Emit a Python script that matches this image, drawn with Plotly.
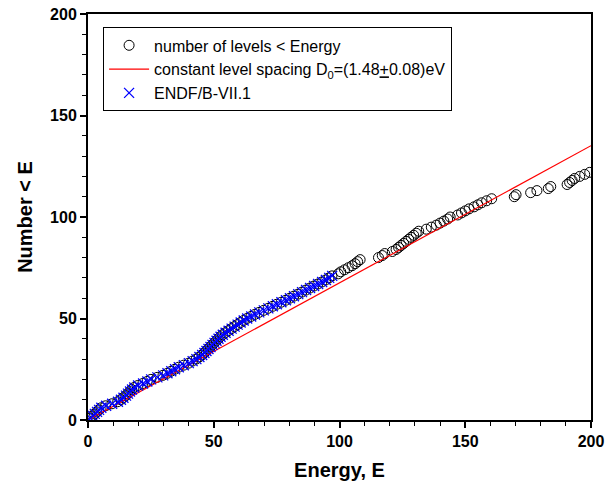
import plotly.graph_objects as go

# Level energies (E) and cumulative count (number of levels < E)
level_energy = [
    0.8, 1.8, 2.6, 3.5, 4.3, 5.2, 7.0, 9.5, 11.8, 13.0,
    14.0, 15.0, 15.8, 16.6, 17.4, 18.3, 19.8, 21.8, 23.5, 25.0,
    27.5, 29.8, 31.5, 33.0, 34.5, 36.0, 38.0, 40.0, 41.5, 43.0,
    44.2, 45.3, 46.2, 47.0, 47.8, 48.6, 49.4, 50.2, 51.0, 51.8,
    52.6, 53.5, 54.6, 55.8, 57.0, 58.2, 59.4, 60.6, 61.8, 63.2,
    64.8, 66.3, 68.0, 69.8, 71.6, 73.4, 75.0, 76.8, 78.6, 80.2,
    81.8, 83.5, 85.0, 86.6, 88.2, 89.8, 91.4, 93.0, 94.5, 95.8,
    97.0, 99.5, 100.5, 102.0, 103.5, 105.0, 106.2, 107.2, 108.2, 115.5,
    117.0, 118.0, 121.0, 122.5, 123.5, 124.5, 125.5, 126.5, 127.5, 128.5,
    129.5, 130.5, 131.5, 134.5, 136.5, 138.5, 140.0, 141.5, 143.0, 144.0,
    147.0, 148.5, 150.0, 151.5, 153.5, 155.0, 156.5, 158.5, 160.5, 169.5,
    170.2, 176.0, 178.5, 183.0, 184.0, 190.5, 191.5, 192.5, 193.5, 195.5,
    197.5, 199.5,
]
level_count = list(range(1, len(level_energy) + 1))

# ENDF/B-VII.1 resonance energies (E < 100)
endf_energy = [
    0.9, 1.9, 2.7, 3.6, 4.4, 5.3, 7.2, 9.6, 11.9, 13.1,
    14.1, 15.1, 15.9, 16.7, 17.5, 18.4, 19.9, 21.9, 23.6, 25.1,
    27.6, 29.9, 31.6, 33.1, 34.6, 36.1, 38.1, 40.1, 41.6, 43.1,
    44.3, 45.4, 46.3, 47.1, 47.9, 48.7, 49.5, 50.3, 51.1, 51.9,
    52.7, 53.6, 54.7, 55.9, 57.1, 58.3, 59.5, 60.7, 61.9, 63.3,
    64.9, 66.4, 68.1, 69.9, 71.7, 73.5, 75.1, 76.9, 78.7, 80.3,
    81.9, 83.6, 85.1, 86.7, 88.3, 89.9, 91.5, 93.1, 94.6, 95.9,
    97.1,
]
endf_count = list(range(1, len(endf_energy) + 1))

# Constant level spacing fit D0 = 1.48 eV
fit_energy = [0, 200]
fit_count = [0, 200 / 1.48]

tick_vals = [0, 50, 100, 150, 200]
tick_text = ["<b>0</b>", "<b>50</b>", "<b>100</b>", "<b>150</b>", "<b>200</b>"]

fig = go.Figure()
fig.add_trace(go.Scatter(
    x=level_energy, y=level_count, mode="markers",
    name="number of levels < Energy",
    marker=dict(symbol="circle-open", size=10, color="black", line=dict(width=1, color="black")),
))
fig.add_trace(go.Scatter(
    x=fit_energy, y=fit_count, mode="lines",
    name="constant level spacing D<sub>0</sub>=(1.48<u>+</u>0.08)eV",
    line=dict(color="red", width=1.2),
))
fig.add_trace(go.Scatter(
    x=endf_energy, y=endf_count, mode="markers",
    name="ENDF/B-VII.1",
    marker=dict(symbol="x-thin-open", size=10, color="blue", line=dict(width=1.3, color="blue")),
))

bold_font = dict(family="Liberation Sans, Arial", size=16, color="black")
title_font = dict(family="Liberation Sans, Arial", size=20, color="black")

fig.update_layout(
    width=605, height=488,
    margin=dict(l=88, r=14, t=14, b=68, autoexpand=False),
    paper_bgcolor="white", plot_bgcolor="white",
    font=dict(family="Liberation Sans, Arial", color="black"),
    showlegend=True,
    legend=dict(
        x=0.03, y=0.967, xanchor="left", yanchor="top",
        bordercolor="black", borderwidth=1, bgcolor="white",
        font=dict(family="Liberation Sans, Arial", size=16, color="black"),
        itemwidth=40, tracegroupgap=0,
    ),
    xaxis=dict(
        range=[0, 200], tickvals=tick_vals, ticktext=tick_text,
        ticks="outside", ticklen=6, tickwidth=1.5, tickcolor="black",
        minor=dict(dtick=10, ticks="outside", ticklen=4, tickwidth=1.2, tickcolor="black"),
        showline=True, linecolor="black", linewidth=2, mirror=True,
        showgrid=False, zeroline=False, automargin=False,
        tickfont=bold_font,
        title=dict(text="<b>Energy, E</b>", font=title_font, standoff=14),
    ),
    yaxis=dict(
        range=[0, 200], tickvals=tick_vals, ticktext=tick_text,
        ticks="outside", ticklen=6, tickwidth=1.5, tickcolor="black",
        minor=dict(dtick=10, ticks="outside", ticklen=4, tickwidth=1.2, tickcolor="black"),
        showline=True, linecolor="black", linewidth=2, mirror=True,
        showgrid=False, zeroline=False, automargin=False,
        tickfont=bold_font,
        title=dict(text="<b>Number < E</b>", font=title_font, standoff=12),
    ),
    xaxis2=dict(
        overlaying="x", side="top", range=[0, 200], tickvals=tick_vals,
        showticklabels=False, ticks="inside", ticklen=6, tickwidth=1.5, tickcolor="black",
        minor=dict(dtick=10, ticks="inside", ticklen=4, tickwidth=1.2, tickcolor="black"),
        showgrid=False, zeroline=False, showline=False, automargin=False,
    ),
    yaxis2=dict(
        overlaying="y", side="right", range=[0, 200], tickvals=tick_vals,
        showticklabels=False, ticks="inside", ticklen=6, tickwidth=1.5, tickcolor="black",
        minor=dict(dtick=10, ticks="inside", ticklen=4, tickwidth=1.2, tickcolor="black"),
        showgrid=False, zeroline=False, showline=False, automargin=False,
    ),
)

fig.write_html("out.html")
